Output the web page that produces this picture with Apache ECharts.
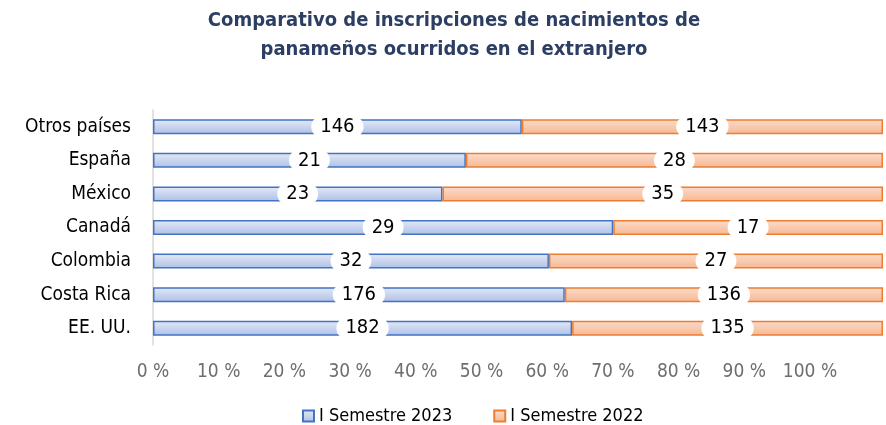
<!DOCTYPE html>
<html>
<head>
<meta charset="utf-8">
<script src="https://cdn.jsdelivr.net/npm/echarts@6/dist/echarts.min.js"></script>
<style>
  html, body { margin: 0; padding: 0; background: #fff; }
  #chart { width: 886px; height: 425px; }
</style>
</head>
<body>
<div id="chart"></div>
<script>
// Inscripciones de nacimientos en el extranjero (de arriba hacia abajo)
var countries = ['Otros países', 'España', 'México', 'Canadá', 'Colombia', 'Costa Rica', 'EE. UU.'];
var sem2023 = [146, 21, 23, 29, 32, 176, 182];
var sem2022 = [143, 28, 35, 17, 27, 136, 135];
var tickValues = [0, 10, 20, 30, 40, 50, 60, 70, 80, 90, 100];

var FONT = '"Liberation Sans Narrow", "DejaVu Sans Condensed", Roboto, sans-serif';

// participación porcentual de cada semestre
var pct2023 = sem2023.map(function (v, i) { return v / (v + sem2022[i]) * 100; });
var pct2022 = sem2022.map(function (v, i) { return v / (sem2023[i] + v) * 100; });

var chart = echarts.init(document.getElementById('chart'), null, { renderer: 'canvas' });

var labelStyle = {
  show: true,
  position: 'inside',
  color: '#000',
  fontFamily: FONT,
  fontSize: 20,
  backgroundColor: '#fff',
  borderRadius: 12,
  padding: [2, 9, 1, 9]
};

var option = {
  backgroundColor: '#fff',
  animation: false,
  title: {
    text: 'Comparativo de inscripciones de nacimientos de\npanameños ocurridos en el extranjero',
    left: 449,
    textAlign: 'center',
    top: 1,
    textStyle: { color: '#2d3e63', fontFamily: FONT, fontWeight: 'bold', fontSize: 20, lineHeight: 29 }
  },
  legend: {
    left: 297,
    top: 402,
    itemWidth: 11,
    itemHeight: 11,
    itemGap: 41,
    icon: 'rect',
    textStyle: { color: '#000', fontFamily: FONT, fontSize: 18 },
    data: ['I Semestre 2023', 'I Semestre 2022']
  },
  grid: [
    { left: 153, right: 3, top: 110, height: 235 },
    { left: 153, right: 76, top: 110, height: 235 }
  ],
  xAxis: [
    {
      gridIndex: 0, type: 'value', min: 0, max: 100,
      axisLine: { show: false }, axisTick: { show: false },
      axisLabel: { show: false }, splitLine: { show: false }
    },
    {
      gridIndex: 1, type: 'value', min: 0, max: 100, interval: 10,
      axisLine: { show: false }, axisTick: { show: false }, splitLine: { show: false },
      axisLabel: {
        color: '#6e6e6e', fontFamily: FONT, fontSize: 19, margin: 18,
        formatter: function (v) { return tickValues.indexOf(v) >= 0 ? v + ' %' : ''; }
      }
    }
  ],
  yAxis: [
    {
      gridIndex: 0, type: 'category', data: countries, inverse: true,
      axisLine: { lineStyle: { color: '#d9d9d9', width: 1.5 } },
      axisTick: { show: false },
      axisLabel: { color: '#000', fontFamily: FONT, fontSize: 19, margin: 22 }
    },
    {
      gridIndex: 1, type: 'category', data: countries, inverse: true, show: false
    }
  ],
  series: [
    {
      name: 'I Semestre 2023',
      type: 'bar',
      stack: 'total',
      xAxisIndex: 0, yAxisIndex: 0,
      barWidth: 15,
      data: pct2023,
      itemStyle: {
        color: new echarts.graphic.LinearGradient(0, 0, 0, 1, [
          { offset: 0, color: '#e4eaf7' },
          { offset: 1, color: '#adc0e6' }
        ]),
        borderColor: '#4472c4',
        borderWidth: 1.5
      },
      label: Object.assign({}, labelStyle, {
        formatter: function (p) { return sem2023[p.dataIndex]; }
      })
    },
    {
      name: 'I Semestre 2022',
      type: 'bar',
      stack: 'total',
      xAxisIndex: 0, yAxisIndex: 0,
      barWidth: 15,
      data: pct2022,
      itemStyle: {
        color: new echarts.graphic.LinearGradient(0, 0, 0, 1, [
          { offset: 0, color: '#fcdccb' },
          { offset: 1, color: '#f6b892' }
        ]),
        borderColor: '#ed7d31',
        borderWidth: 1.5
      },
      label: Object.assign({}, labelStyle, {
        formatter: function (p) { return sem2022[p.dataIndex]; }
      })
    }
  ]
};

chart.setOption(option);
window.addEventListener('resize', function () { chart.resize(); });
</script>
</body>
</html>
